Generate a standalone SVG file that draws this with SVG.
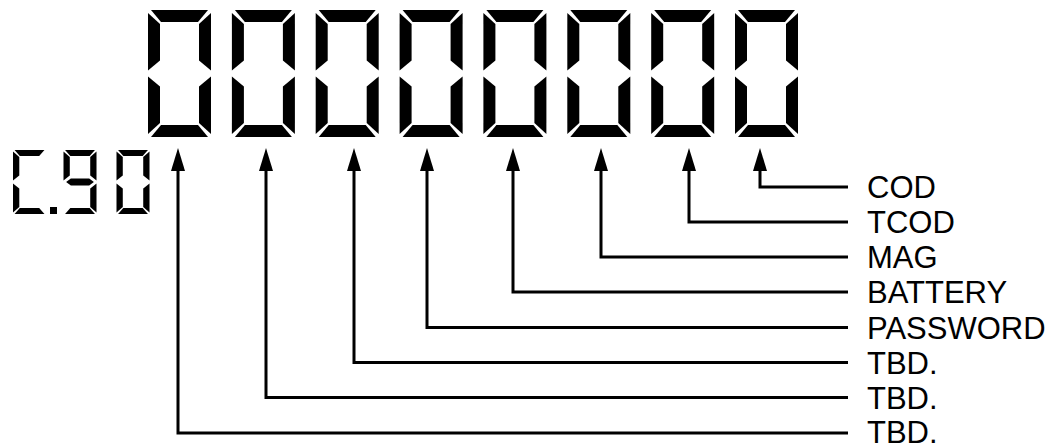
<svg xmlns="http://www.w3.org/2000/svg" xmlns:xlink="http://www.w3.org/1999/xlink" width="1055" height="445" viewBox="0 0 1055 445">
  <style>
    .seg { fill: #000; }
    .conn { fill: none; stroke: #000; stroke-width: 3; stroke-linejoin: miter; stroke-linecap: butt; }
    .lbl { font-family: "Liberation Sans", Arial, sans-serif; font-size: 31px; fill: #000; }
  </style>
  <defs>
    <path id="sa" class="seg" d="M3,0 H60 L50,12 H13 Z"/>
    <path id="sb" class="seg" d="M63,3 V60.5 L51,50.5 V14 Z"/>
    <path id="sc" class="seg" d="M63,66.5 V124 L51,113 V76.5 Z"/>
    <path id="sd" class="seg" d="M3,127 H60 L50,115 H13 Z"/>
    <path id="se" class="seg" d="M0,66.5 V124 L12,113 V76.5 Z"/>
    <path id="sf" class="seg" d="M0,3 V60.5 L12,50.5 V14 Z"/>
    <path id="sg" class="seg" d="M5,63.5 L14,56.5 H49 L58,63.5 L49,70.5 H14 Z"/>
    <g id="d0">
      <use xlink:href="#sa"/><use xlink:href="#sb"/><use xlink:href="#sc"/>
      <use xlink:href="#sd"/><use xlink:href="#se"/><use xlink:href="#sf"/>
    </g>
    <g id="d9">
      <use xlink:href="#sa"/><use xlink:href="#sb"/><use xlink:href="#sc"/>
      <use xlink:href="#sd"/><use xlink:href="#sf"/><use xlink:href="#sg"/>
    </g>
    <g id="dC">
      <use xlink:href="#sa"/><use xlink:href="#sd"/><use xlink:href="#se"/><use xlink:href="#sf"/>
    </g>
    <marker id="arr" markerUnits="userSpaceOnUse" markerWidth="23" markerHeight="14" viewBox="0 0 23 14" refX="1" refY="7" orient="auto">
      <path d="M0,0 L23,7 L0,14 Z" fill="#000"/>
    </marker>
  </defs>
  <rect width="1055" height="445" fill="#fff"/>

  <g id="display">
    <use id="digit1" xlink:href="#d0" transform="translate(148,10)"/>
    <use id="digit2" xlink:href="#d0" transform="translate(231.9,10)"/>
    <use id="digit3" xlink:href="#d0" transform="translate(315.7,10)"/>
    <use id="digit4" xlink:href="#d0" transform="translate(399.6,10)"/>
    <use id="digit5" xlink:href="#d0" transform="translate(483.4,10)"/>
    <use id="digit6" xlink:href="#d0" transform="translate(567.3,10)"/>
    <use id="digit7" xlink:href="#d0" transform="translate(651.2,10)"/>
    <use id="digit8" xlink:href="#d0" transform="translate(735,10)"/>
  </g>

  <g id="version">
    <use xlink:href="#dC" transform="translate(13,150) scale(0.524,0.504)"/>
    <rect x="50" y="207" width="7" height="7" fill="#000"/>
    <use xlink:href="#d9" transform="translate(63.5,150) scale(0.524,0.504)"/>
    <use xlink:href="#d0" transform="translate(116.5,150) scale(0.524,0.504)"/>
  </g>

  <g id="connectors">
    <path class="conn" marker-end="url(#arr)" d="M848,187 H760 V170"/>
    <path class="conn" marker-end="url(#arr)" d="M848,222 H689 V170"/>
    <path class="conn" marker-end="url(#arr)" d="M848,257 H601 V170"/>
    <path class="conn" marker-end="url(#arr)" d="M848,292 H513 V170"/>
    <path class="conn" marker-end="url(#arr)" d="M848,327.5 H427 V170"/>
    <path class="conn" marker-end="url(#arr)" d="M848,362.5 H354 V170"/>
    <path class="conn" marker-end="url(#arr)" d="M848,397.5 H266 V170"/>
    <path class="conn" marker-end="url(#arr)" d="M848,433 H178 V170"/>
  </g>

  <g id="labels">
    <text class="lbl" x="867" y="198">COD</text>
    <text class="lbl" x="867" y="233">TCOD</text>
    <text class="lbl" x="867" y="268">MAG</text>
    <text class="lbl" x="867" y="303">BATTERY</text>
    <text class="lbl" x="867" y="338.5">PASSWORD</text>
    <text class="lbl" x="867" y="373.5">TBD.</text>
    <text class="lbl" x="867" y="408.5">TBD.</text>
    <text class="lbl" x="867" y="443">TBD.</text>
  </g>
</svg>
